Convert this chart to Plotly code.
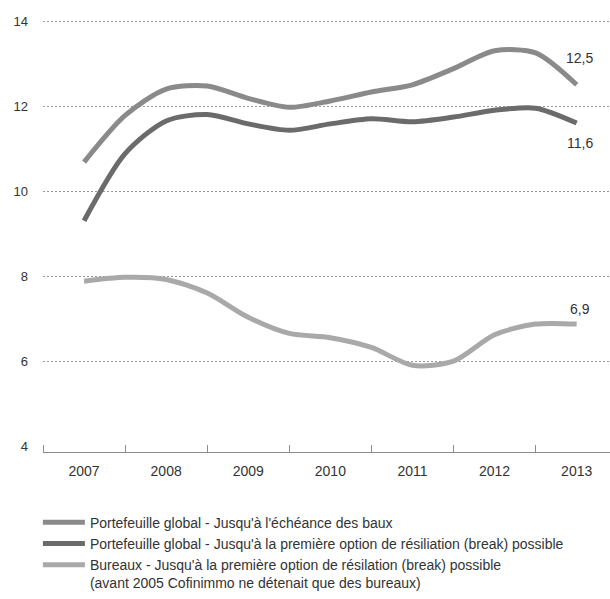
import plotly.graph_objects as go

years = [2007, 2007.5, 2008, 2008.5, 2009, 2009.5, 2010, 2010.5, 2011, 2011.5, 2012, 2012.5, 2013]
categories = ["2007", "2008", "2009", "2010", "2011", "2012", "2013"]
cat_years = [2007, 2008, 2009, 2010, 2011, 2012, 2013]

global_lease = [10.68, 11.78, 12.40, 12.47, 12.18, 11.97, 12.12, 12.33, 12.50, 12.88, 13.30, 13.25, 12.50]
global_break = [9.30, 10.88, 11.65, 11.80, 11.58, 11.43, 11.58, 11.70, 11.63, 11.74, 11.90, 11.95, 11.60]
offices_break = [7.88, 7.97, 7.92, 7.60, 7.03, 6.65, 6.55, 6.32, 5.90, 6.00, 6.62, 6.87, 6.87]

names = [
    "Portefeuille global - Jusqu'à l'échéance des baux",
    "Portefeuille global - Jusqu'à la première option de résiliation (break) possible",
    "Bureaux - Jusqu'à la première option de résilation (break) possible<br>(avant 2005 Cofinimmo ne détenait que des bureaux)",
]
end_labels = ["12,5", "11,6", "6,9"]
colors = ["#8a8a8a", "#6b6b6b", "#a9a9a9"]
series = [global_lease, global_break, offices_break]
label_shift = [27, -20, 15]

FONT = "Liberation Sans, Arial, sans-serif"

fig = go.Figure()
for s, n, c in zip(series, names, colors):
    fig.add_trace(go.Scatter(
        x=years, y=s, name=n, mode="lines",
        line=dict(color=c, width=5, shape="spline", smoothing=0.8),
        hoverinfo="skip",
    ))

for s, lab, sh in zip(series, end_labels, label_shift):
    fig.add_annotation(x=years[-1], y=s[-1], text=lab, showarrow=False,
                       yshift=sh, xshift=3, font=dict(size=14, color="#333333", family=FONT))

fig.update_layout(
    width=610, height=599,
    margin=dict(l=43, r=0, t=0, b=147),
    paper_bgcolor="white", plot_bgcolor="white",
    font=dict(family=FONT, size=13, color="#333333"),
    showlegend=True,
    legend=dict(
        x=-0.009, xanchor="left", y=-0.121, yanchor="top",
        font=dict(size=14, color="#333333", family=FONT),
        itemwidth=42, valign="top", tracegroupgap=0,
        bgcolor="rgba(0,0,0,0)",
    ),
    xaxis=dict(
        range=[2006.5, 2013.406],
        tickmode="array", tickvals=cat_years, ticktext=categories,
        ticks="", showgrid=False, zeroline=False,
        showline=True, linecolor="#8c8c8c", linewidth=1,
        tickfont=dict(size=14, color="#333333"),
        ticklabelstandoff=6,
        minor=dict(tickmode="linear", tick0=2006.5, dtick=1, ticks="inside",
                   ticklen=7, tickcolor="#8c8c8c", tickwidth=1, showgrid=False),
    ),
    yaxis=dict(
        range=[3.86, 14.495],
        tickmode="array", tickvals=[4, 6, 8, 10, 12, 14],
        ticks="", showgrid=False, zeroline=False, showline=False,
        tickfont=dict(size=13, color="#333333"),
        ticklabelstandoff=14,
        minor=dict(tickmode="array", tickvals=[6, 8, 10, 12, 14], showgrid=True,
                   gridcolor="#9a9a9a", gridwidth=1, griddash="2px,2px", ticks=""),
    ),
)

fig.write_html("out.html")
